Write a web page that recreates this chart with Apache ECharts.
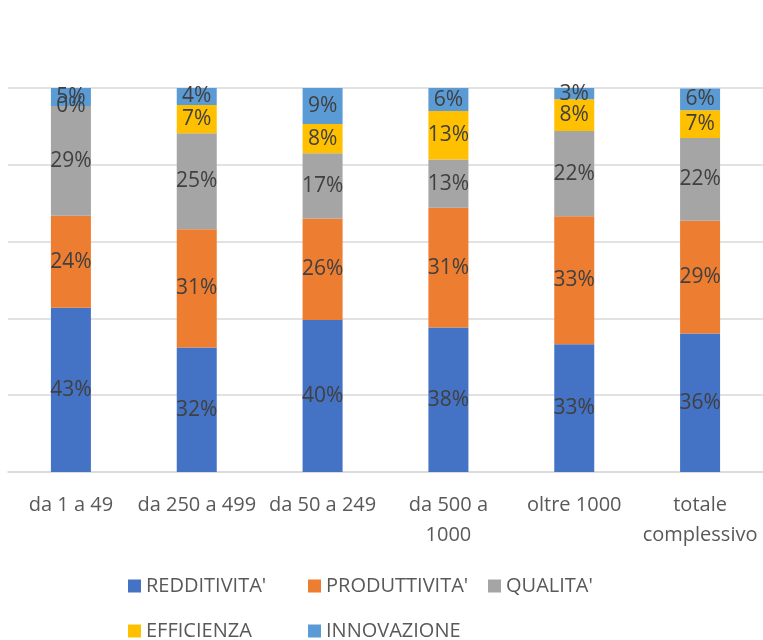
<!DOCTYPE html>
<html>
<head>
<meta charset="utf-8">
<script src="https://cdn.jsdelivr.net/npm/echarts@6/dist/echarts.min.js"></script>
<style>html,body{margin:0;padding:0;background:#fff;}#c{width:763px;height:640px;}</style>
</head>
<body>
<div id="c"></div>
<script>
const categories = ["da 1 a 49", "da 250 a 499", "da 50 a 249", "da 500 a 1000", "oltre 1000", "totale complessivo"];
const redditivita = [42.8, 32.4, 39.6, 37.6, 33.3, 36.1];
const produttivita = [23.9, 30.8, 26.4, 31.2, 33.3, 29.3];
const qualita = [28.6, 25.0, 17.0, 12.6, 22.2, 21.6];
const efficienza = [0.0, 7.4, 7.6, 12.6, 8.3, 7.2];
const innovazione = [4.7, 4.4, 9.4, 6.0, 2.9, 5.7];
const seriesNames = ["REDDITIVITA'", "PRODUTTIVITA'", "QUALITA'", "EFFICIENZA", "INNOVAZIONE"];
const seriesData = [redditivita, produttivita, qualita, efficienza, innovazione];
const colors = ["#4472C4", "#ED7D31", "#A5A5A5", "#FFC000", "#5B9BD5"];
const FONT = "Open Sans";

const chart = echarts.init(document.getElementById('c'));
chart.setOption({
  animation: false,
  color: colors,
  grid: { left: 8, right: -3, top: 88, bottom: 168 },
  legend: {
    left: 123, top: 565, width: 580,
    itemWidth: 13, itemHeight: 13, itemGap: 13,
    icon: 'rect',
    textStyle: { fontFamily: FONT, fontSize: 20, color: '#595959', width: 149, lineHeight: 32 },
    data: seriesNames
  },
  xAxis: {
    type: 'category',
    data: categories,
    axisLine: { lineStyle: { color: '#d9d9d9', width: 1.5 } },
    axisTick: { show: false },
    axisLabel: {
      fontFamily: FONT, fontSize: 20, color: '#595959', margin: 18, lineHeight: 30, interval: 0,
      formatter: v => v.replace('da 500 a ', 'da 500 a\n').replace('totale ', 'totale\n')
    }
  },
  yAxis: {
    type: 'value', min: 0, max: 100, interval: 20,
    axisLabel: { show: false },
    axisLine: { show: false }, axisTick: { show: false },
    splitLine: { lineStyle: { color: '#d9d9d9', width: 1.5 } }
  },
  series: seriesNames.map((n, i) => ({
    name: n, type: 'bar', stack: 'total', barWidth: 40,
    data: seriesData[i],
    label: {
      show: true, position: 'inside', fontFamily: FONT, fontSize: 21, color: '#404040',
      formatter: p => Math.round(p.value) + '%'
    }
  }))
});
</script>
</body>
</html>
